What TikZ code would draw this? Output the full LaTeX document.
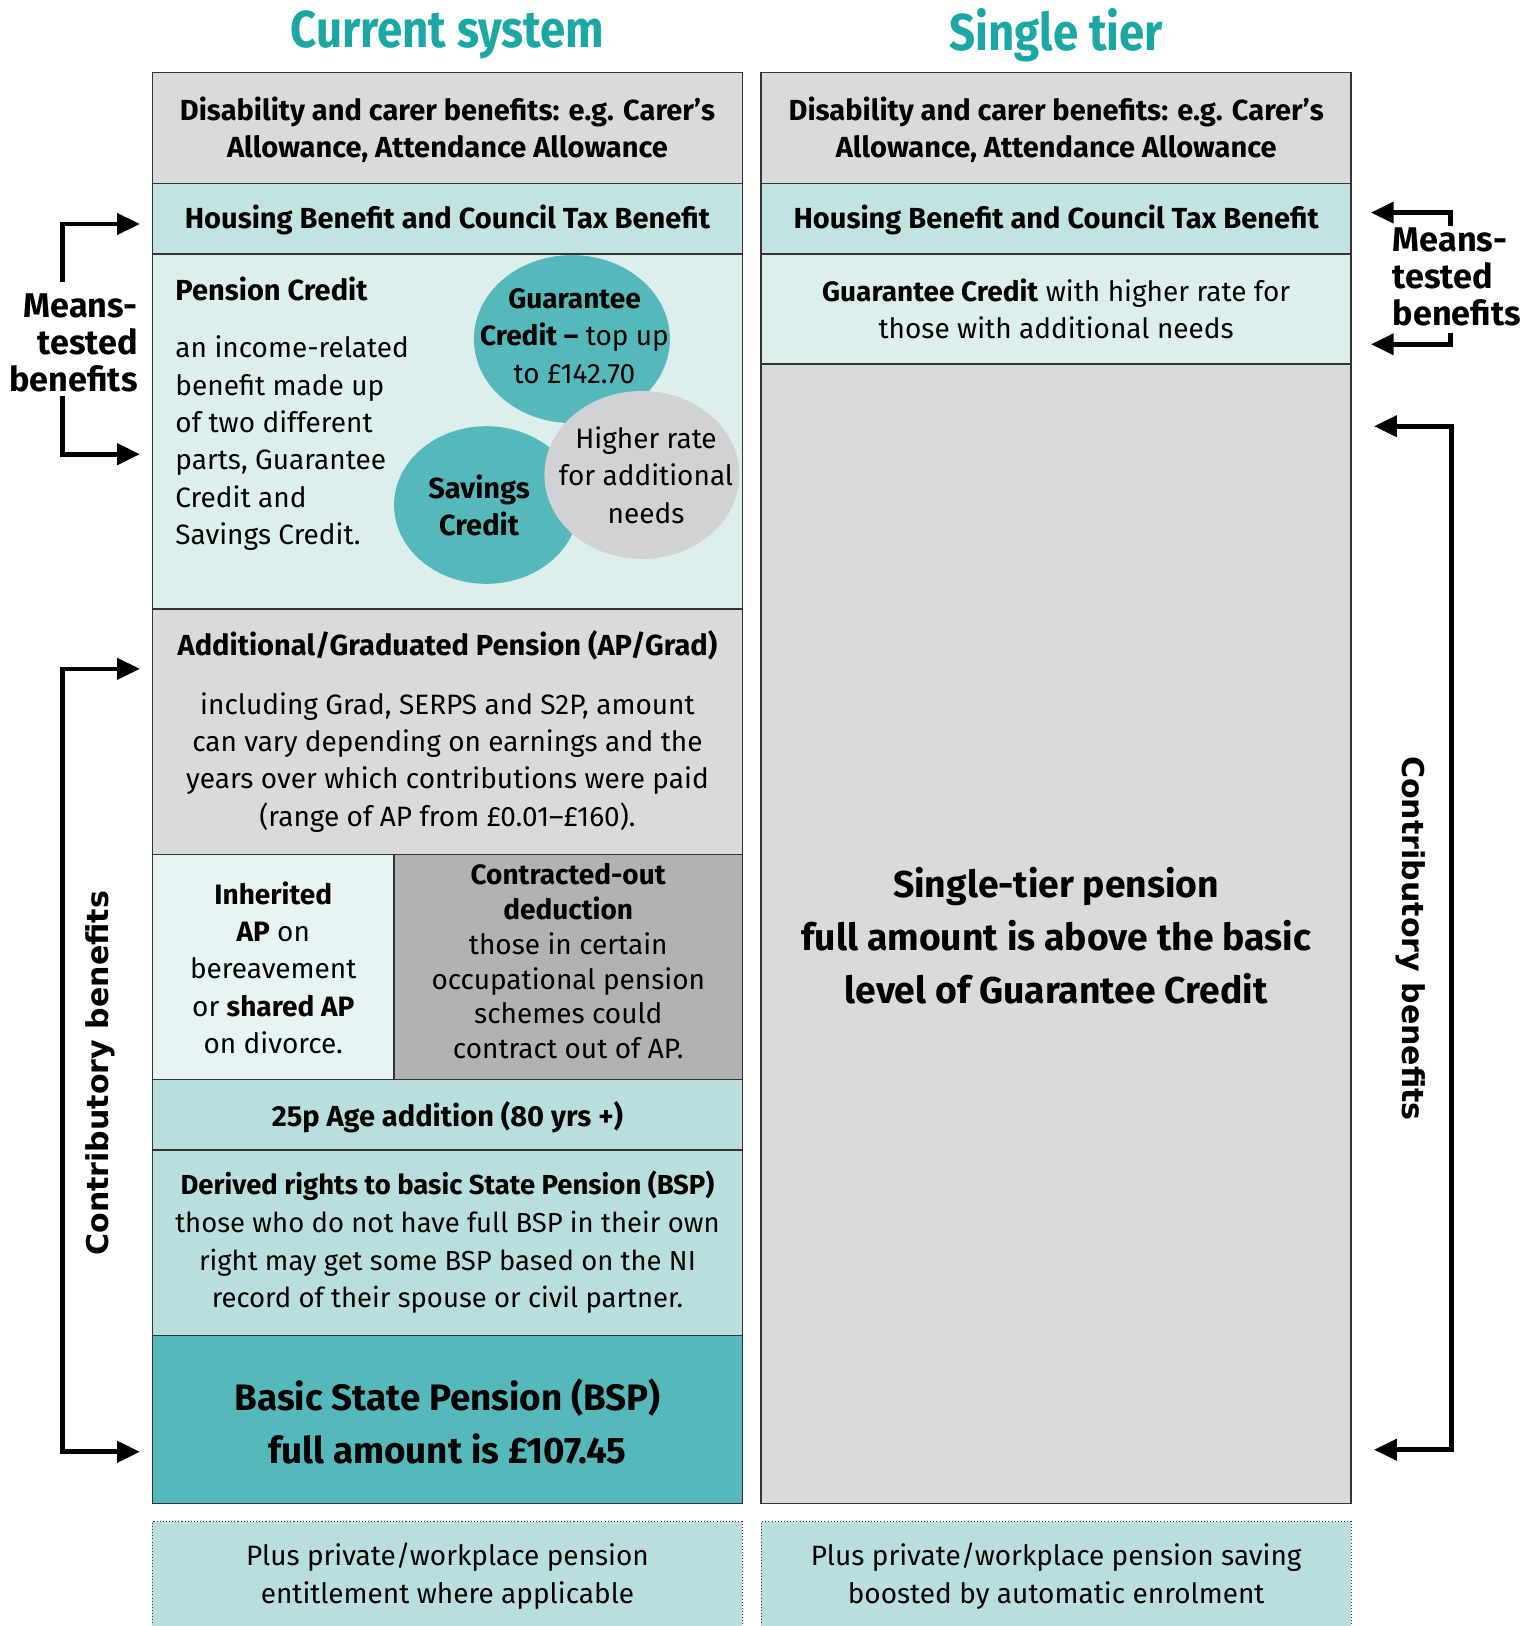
\documentclass[tikz,border=0pt]{standalone}
\usepackage{fontspec}
\setmainfont{Fira Sans}
\newfontfamily\titlefont[FakeStretch=0.88]{Fira Sans}
\newfontfamily\contribfont{DejaVu Sans}
\usetikzlibrary{arrows.meta,shapes.geometric}
\definecolor{titleteal}{HTML}{1BA8A4}
\definecolor{greycell}{HTML}{D9DADC}
\definecolor{housecell}{HTML}{C2E3E1}
\definecolor{pccell}{HTML}{DDEFED}
\definecolor{inhcell}{HTML}{E8F4F4}
\definecolor{cocell}{HTML}{B1B2B4}
\definecolor{tealcell}{HTML}{B8DFDE}
\definecolor{bspcell}{HTML}{55B9BC}
\definecolor{hrcircle}{HTML}{D1D2D4}
\definecolor{linecol}{HTML}{333333}
\newcommand\fsbody{\fontsize{27}{36}\selectfont}
\newcommand\fsbold{\fontsize{28}{36}\selectfont\bfseries}
\newcommand\fsder{\fontsize{26.5}{36.3}\selectfont}
\newcommand\fscompact{\fontsize{27}{33.5}\selectfont}
\newcommand\fsbig{\fontsize{36}{51}\selectfont\bfseries}
\newcommand\fsbsp{\fontsize{35.5}{51}\selectfont\bfseries}
\newcommand\fstitle{\titlefont\bfseries\fontsize{50}{56}\selectfont}
\newcommand\fslabel{\fontsize{33}{35.5}\selectfont\bfseries}
\newcommand\fscontrib{\contribfont\bfseries\fontsize{29}{32}\selectfont}
\begin{document}
\begin{tikzpicture}[x=1pt,y=-1pt,
  cell/.style={draw=linecol, line width=1.6pt, inner sep=0pt, outer sep=0pt},
  plusbox/.style={draw=linecol, dotted, line width=1pt, fill=tealcell, inner sep=0pt, minimum width=569pt, minimum height=130pt, anchor=north},
  txt/.style={align=center, inner sep=0pt, font=\fsbody},
  blob/.style={ellipse, inner sep=0pt},
  arr/.style={line width=4.5pt, -{Triangle[length=22pt,width=20pt]}},
  darr/.style={line width=4.5pt, {Triangle[length=22pt,width=20pt]}-{Triangle[length=22pt,width=20pt]}}]
\useasboundingbox (0,0) rectangle (1482,1568);
% titles
\node[font=\fstitle, text=titleteal] (t1) at (431.5,34) {Current system};
\node[font=\fstitle, text=titleteal] (t2) at (1018.5,34) {Single tier};
% left column cells
\node[cell, fill=greycell, minimum width=569pt, minimum height=107pt] (dis1) at (431.5,123.5) {};
\node[cell, fill=housecell, minimum width=569pt, minimum height=68pt] (hou1) at (431.5,211) {};
\node[cell, fill=pccell, minimum width=569pt, minimum height=342pt] (pc) at (431.5,416) {};
\node[cell, fill=greycell, minimum width=569pt, minimum height=237pt] (ap) at (431.5,705.5) {};
\node[cell, fill=inhcell, minimum width=233pt, minimum height=217pt] (inh) at (263.5,932.5) {};
\node[cell, fill=cocell, minimum width=336pt, minimum height=217pt] (co) at (548,932.5) {};
\node[cell, fill=tealcell, minimum width=569pt, minimum height=68pt] (age) at (431.5,1075) {};
\node[cell, fill=tealcell, minimum width=569pt, minimum height=179pt] (der) at (431.5,1198.5) {};
\node[cell, fill=bspcell, minimum width=569pt, minimum height=162pt] (bsp) at (431.5,1369) {};
\node[plusbox] (plus1) at (431.5,1467) {};
% right column cells
\node[cell, fill=greycell, minimum width=569pt, minimum height=107pt] (dis2) at (1018.5,123.5) {};
\node[cell, fill=housecell, minimum width=569pt, minimum height=68pt] (hou2) at (1018.5,211) {};
\node[cell, fill=pccell, minimum width=569pt, minimum height=106pt] (gc2) at (1018.5,298) {};
\node[cell, fill=greycell, minimum width=569pt, minimum height=1099pt] (st) at (1018.5,900.5) {};
\node[plusbox] (plus2) at (1018.5,1467) {};
% circles
\node[blob, fill=bspcell, minimum width=189pt, minimum height=162pt] (gcc) at (551.5,327) {};
\node[blob, fill=bspcell, minimum width=178pt, minimum height=152pt] (scc) at (469,487) {};
\node[blob, fill=hrcircle, minimum width=188pt, minimum height=162pt] (hrc) at (619,458) {};
% texts left
\node[txt, font=\fsbold] (dis1t) at (431.5,125) {Disability and carer benefits: e.g. Carer’s\\Allowance, Attendance Allowance};
\node[txt, font=\fsbold] (hou1t) at (431.5,212) {Housing Benefit and Council Tax Benefit};
\node[txt, font=\fsbold, anchor=west] (pct) at (169,279) {Pension Credit};
\node[txt, align=left, anchor=west] (pcb) at (169,427.5) {an income-related\\benefit made up\\of two different\\parts, Guarantee\\Credit and\\Savings Credit.};
\node[txt] (gct) at (554,324) {\textbf{Guarantee}\\\textbf{Credit –} top up\\to £142.70};
\node[txt, font=\fsbold] (sct) at (462,487.5) {Savings\\Credit};
\node[txt] (hrt) at (623,458) {Higher rate\\for additional\\needs};
\node[txt, font=\fsbold] (apt) at (431.5,622) {Additional/Graduated Pension (AP/Grad)};
\node[txt] (apb) at (431.5,735) {including Grad, SERPS and S2P, amount\\can vary depending on earnings and the\\years over which contributions were paid\\(range of AP from £0.01–£160).};
\node[txt] (inht) at (263.5,933) {\textbf{Inherited}\\\textbf{AP} on\\bereavement\\or \textbf{shared AP}\\on divorce.};
\node[txt, font=\fscompact] (cot) at (548,927) {\textbf{Contracted-out}\\\textbf{deduction}\\those in certain\\occupational pension\\schemes could\\contract out of AP.};
\node[txt, font=\fsbold] (aget) at (431.5,1077) {25p Age addition (80 yrs +)};
\node[txt, font=\fsder] (dert) at (431.5,1198) {\textbf{Derived rights to basic State Pension (BSP)}\\those who do not have full BSP in their own\\right may get some BSP based on the NI\\record of their spouse or civil partner.};
\node[txt, font=\fsbsp] (bspt) at (431.5,1370.5) {Basic State Pension (BSP)\\full amount is £107.45};
\node[txt] (plus1t) at (431.5,1520) {Plus private/workplace pension\\entitlement where applicable};
% texts right
\node[txt, font=\fsbold] (dis2t) at (1018.5,125) {Disability and carer benefits: e.g. Carer’s\\Allowance, Attendance Allowance};
\node[txt, font=\fsbold] (hou2t) at (1018.5,212) {Housing Benefit and Council Tax Benefit};
\node[txt] (gc2t) at (1018.5,297.5) {\textbf{Guarantee Credit} with higher rate for\\those with additional needs};
\node[txt, font=\fsbig] (stt) at (1018.5,902) {Single-tier pension\\full amount is above the basic\\level of Guarantee Credit};
\node[txt] (plus2t) at (1018.5,1520) {Plus private/workplace pension saving\\boosted by automatic enrolment};
% side labels
\node[txt, align=right, anchor=east, font=\fslabel] (mtl) at (133,330.5) {Means-\\tested\\benefits};
\node[txt, align=left, anchor=west, font=\fslabel] (mtr) at (1343,266.8) {Means-\\tested\\benefits};
\node[txt, font=\fscontrib, rotate=90] (cbl) at (97,1035) {Contributory benefits};
\node[txt, font=\fscontrib, rotate=-90] (cbr) at (1360,905) {Contributory benefits};
% arrow coordinates
\coordinate (mtl1s) at (60,272);
\coordinate (mtl1e) at (135,216);
\coordinate (mtl2s) at (60,382);
\coordinate (mtl2e) at (135,438);
\coordinate (cbl1) at (135,645);
\coordinate (cbl2) at (135,1400);
\coordinate (mtr1s) at (1399,218);
\coordinate (mtr1e) at (1322,205);
\coordinate (mtr2s) at (1399,321);
\coordinate (mtr2e) at (1322,332);
\coordinate (cbr1) at (1325,411);
\coordinate (cbr2) at (1325,1398);
\draw[arr] (mtl1s) |- (mtl1e);
\draw[arr] (mtl2s) |- (mtl2e);
\draw[darr] (cbl1) -- ++(-75,0) |- (cbl2);
\draw[arr] (mtr1s) |- (mtr1e);
\draw[arr] (mtr2s) |- (mtr2e);
\draw[darr] (cbr1) -- ++(75,0) |- (cbr2);
\end{tikzpicture}
\end{document}
